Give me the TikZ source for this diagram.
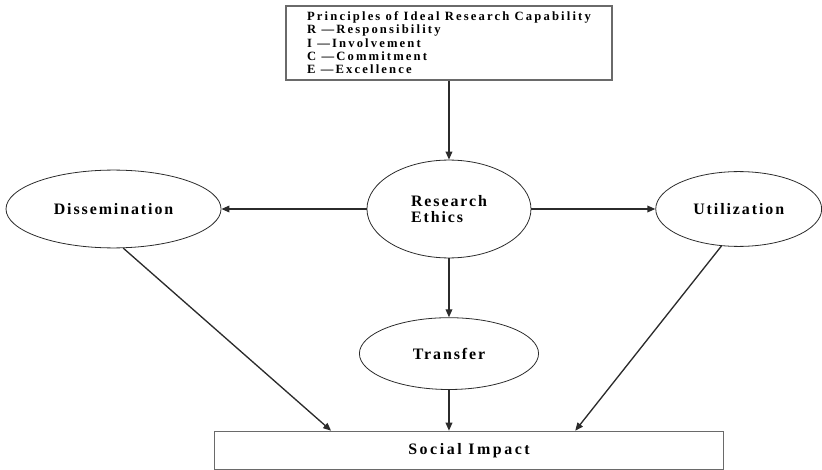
\documentclass[tikz,border=0pt]{standalone}
\usepackage{fontspec}
\setmainfont{Liberation Serif}
\usepackage{tikz}
\usetikzlibrary{shapes.geometric,arrows.meta,positioning,calc}
\definecolor{LineGrey}{HTML}{2B2B2B}
\definecolor{BoxGrey}{HTML}{6A6A6A}
\tikzset{
  % Base box
  BX/.style={rectangle,draw=BoxGrey,line width=1.3pt,inner sep=0pt,
             font=\fontsize{12}{13}\selectfont\bfseries\addfontfeatures{LetterSpace=16}},
  % Base ellipse
  EL/.style={ellipse,draw=LineGrey,line width=0.6pt,inner sep=0pt,align=left,
             font=\fontsize{12}{12.5}\selectfont\bfseries\addfontfeatures{LetterSpace=12}},
  % Arrow
  arr/.style={-{Triangle[length=6pt,width=5pt]},line width=1pt,draw=LineGrey}
}
\begin{document}
\begin{tikzpicture}
  \useasboundingbox (0,0) rectangle (21.75,-12.435);
  \node[EL,minimum width=4.34cm,minimum height=2.59cm] (ethics) at (11.88,-5.53) {Research\\Ethics};
  \node[BX,minimum width=8.63cm,minimum height=1.96cm,align=left,
        font=\fontsize{9.5}{10.1}\selectfont\bfseries\addfontfeatures{LetterSpace=17},
        above=2.09cm of ethics] (caps)
        {Principles of Ideal Research Capability\\R ---Responsibility\\I ---Involvement\\C ---Commitment\\E ---Excellence};
  \node[EL,minimum width=5.69cm,minimum height=2.06cm,left=3.84cm of ethics]  (dissem)   {Dissemination};
  \node[EL,minimum width=4.39cm,minimum height=1.98cm,right=3.28cm of ethics] (util)     {Utilization};
  \node[EL,minimum width=4.74cm,minimum height=1.90cm,below=1.56cm of ethics] (transfer) {Transfer};
  \node[BX,minimum width=13.47cm,minimum height=1.01cm,below=1.08cm of transfer,xshift=0.53cm] (impact) {Social Impact};

  \draw[arr](caps)--(ethics);
  \draw[arr](ethics)--(dissem);
  \draw[arr](ethics)--(util);
  \draw[arr](ethics)--(transfer);
  \draw[arr](transfer.south)--(transfer.south |- impact.north);
  \draw[arr](dissem.-76)--($(impact.north west)!0.23!(impact.north east)$);
  \draw[arr](util.-115)--($(impact.north west)!0.708!(impact.north east)$);
\end{tikzpicture}
\end{document}
